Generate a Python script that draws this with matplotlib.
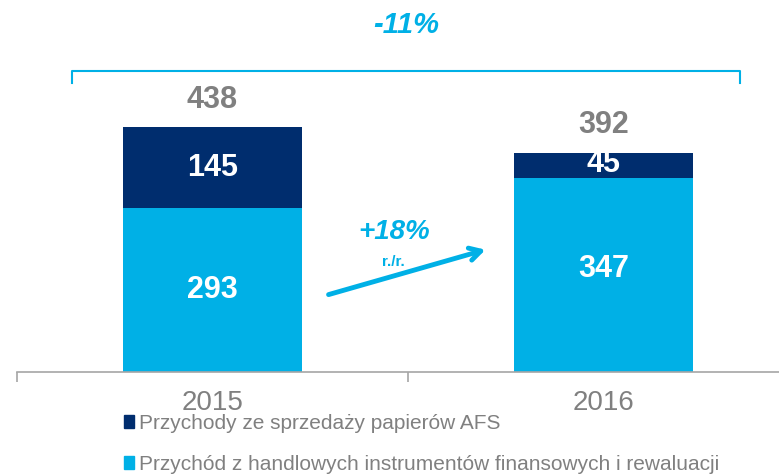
import matplotlib
matplotlib.use('Agg')
import matplotlib.pyplot as plt
from matplotlib.patches import Patch

# data
years = ['2015', '2016']
afs = [145, 45]
trading = [293, 347]
totals = [438, 392]
labels = ['Przychody ze sprzedaży papierów AFS',
          'Przychód z handlowych instrumentów finansowych i rewaluacji']
change_total = '-11%'
change_trading = '+18%'

navy = '#002D6E'
cyan = '#00B0E6'
grey = '#808080'
font = ['Liberation Sans', 'DejaVu Sans']

fig = plt.figure(figsize=(7.79, 4.74), dpi=100)
ax = fig.add_axes([17/779, 102/474, 782/779, 372/474])

x = [0, 1]
w = 0.46
ax.bar(x, trading, width=w, color=cyan, zorder=2)
ax.bar(x, afs, width=w, bottom=trading, color=navy, zorder=2)

ax.set_xlim(-0.5, 1.5)
ax.set_ylim(0, 665)

for spine in ['top', 'right', 'left']:
    ax.spines[spine].set_visible(False)
ax.spines['bottom'].set_color('#A6A6A6')
ax.spines['bottom'].set_linewidth(1.2)
ax.set_yticks([])
ax.set_xticks([-0.5, 0.5, 1.5])
ax.set_xticklabels([])
ax.tick_params(axis='x', length=7, color='#A6A6A6', width=1.2)
for i, yr in enumerate(years):
    ax.text(x[i], -55, yr, ha='center', va='center', fontsize=20,
            color=grey, family=font)

# segment labels
for i in range(2):
    ax.text(x[i], trading[i] / 2 + (10 if i == 1 else 0), str(trading[i]),
            ha='center', va='center', fontsize=22, fontweight='bold',
            color='white', family=font)
    ax.text(x[i], trading[i] + afs[i] / 2 + (3 if i == 1 else 0), str(afs[i]),
            ha='center', va='center', fontsize=22, fontweight='bold',
            color='white', family=font)
    ax.text(x[i], totals[i] + 49, str(totals[i]), ha='center', va='center',
            fontsize=22, fontweight='bold', color=grey, family=font)

# bracket with total change
bx0, bx1, by, bt = -0.359, 1.349, 538, 517
ax.plot([bx0, bx0, bx1, bx1], [bt, by, by, bt], color=cyan, lw=1.5,
        clip_on=False)
ax.text(0.495, 621, change_total, ha='center', va='center', fontsize=21,
        fontweight='bold', fontstyle='italic', color=cyan, family=font,
        clip_on=False)

# arrow for trading change
ax.annotate('', xy=(0.705, 220), xytext=(0.29, 137),
            arrowprops=dict(arrowstyle='->,head_length=0.8,head_width=0.45',
                            color=cyan, lw=3.5))
ax.text(0.465, 251, change_trading, ha='center', va='center', fontsize=20,
        fontweight='bold', fontstyle='italic', color=cyan, family=font)
ax.text(0.462, 197, 'r./r.', ha='center', va='center', fontsize=11,
        fontweight='bold', color=cyan, family=font)

handles = [Patch(color=navy), Patch(color=cyan)]
fig.legend(handles, labels, loc='upper left', bbox_to_anchor=(124/779, 1 - 414/474),
           frameon=False, handlelength=0.5, handleheight=0.6, handletextpad=0.2,
           labelspacing=1.05, borderaxespad=0, borderpad=0,
           prop={'family': font, 'size': 15}, labelcolor=grey)

fig.savefig('out.png', dpi=100)
